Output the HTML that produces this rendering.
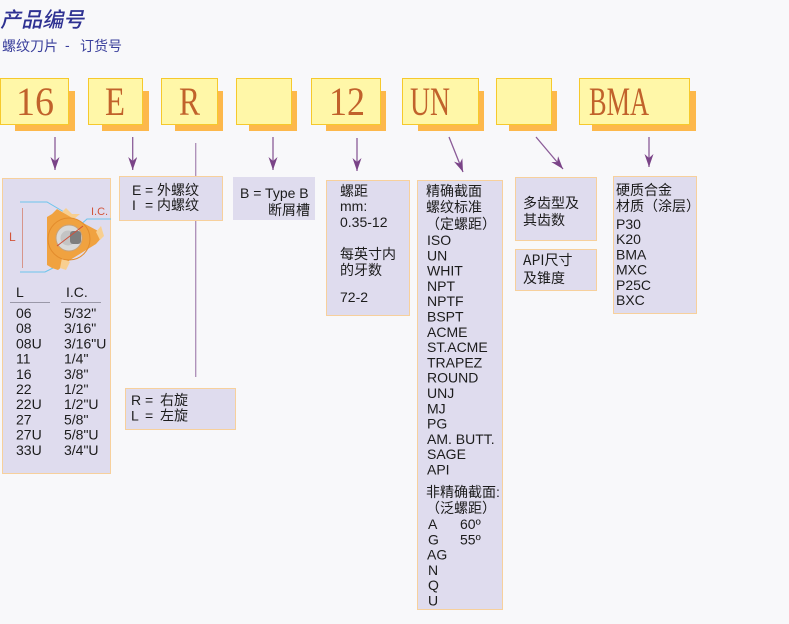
<!DOCTYPE html>
<html>
<head>
<meta charset="utf-8">
<style>
  html,body{margin:0;padding:0;background:#f8f8fa;}
  body{width:789px;height:624px;overflow:hidden;}
  svg{display:block;}
  .t{font-family:"Liberation Sans","Noto Sans CJK SC",sans-serif;font-size:14px;fill:#1c1c1c;}
  .w{font-family:"WenQuanYi Zen Hei","Noto Sans CJK SC",sans-serif;font-size:14px;fill:#1c1c1c;}
  .big{font-family:"Liberation Serif",serif;font-size:40px;fill:#c1622b;}
</style>
</head>
<body>
<svg width="789" height="624" viewBox="0 0 789 624" xmlns="http://www.w3.org/2000/svg">
  <defs>
    <marker id="ah" viewBox="0 0 13 9" refX="13" refY="4.5" markerWidth="13" markerHeight="9" markerUnits="userSpaceOnUse" orient="auto">
      <path d="M0,0 L13,4.5 L0,9 L4,4.5 Z" fill="#7a4387"/>
    </marker>
  </defs>
  <rect x="0" y="0" width="789" height="624" fill="#f8f8fa"/>

  <!-- Title -->
  <text x="0" y="27" transform="skewX(-12) translate(6,0)" font-family="'Noto Sans CJK SC','WenQuanYi Zen Hei',sans-serif" font-size="21" font-weight="500" fill="#2e3192">产品编号</text>
  <text x="2" y="51" font-family="'Noto Sans CJK SC','WenQuanYi Zen Hei',sans-serif" font-size="14" fill="#3a3f9c">螺纹刀片</text>
  <text x="65" y="50" font-family="'Liberation Sans',sans-serif" font-size="14" fill="#3a3f9c">-</text>
  <text x="80" y="51" font-family="'Noto Sans CJK SC','WenQuanYi Zen Hei',sans-serif" font-size="14" fill="#3a3f9c">订货号</text>

  <!-- Yellow code boxes: shadows -->
  <g fill="#fdb84b">
    <rect x="15" y="91" width="60" height="40"/>
    <rect x="102" y="91" width="47" height="40"/>
    <rect x="175" y="91" width="48" height="40"/>
    <rect x="249" y="91" width="48" height="40"/>
    <rect x="326" y="91" width="60" height="40"/>
    <rect x="418" y="91" width="66" height="40"/>
    <rect x="509" y="91" width="48" height="40"/>
    <rect x="592" y="91" width="104" height="40"/>
  </g>
  <g fill="#fff7a8" stroke="#f6c92c" stroke-width="1">
    <rect x="0.5" y="78.5" width="68" height="46"/>
    <rect x="88.5" y="78.5" width="54" height="46"/>
    <rect x="161.5" y="78.5" width="56" height="46"/>
    <rect x="236.5" y="78.5" width="55" height="46"/>
    <rect x="311.5" y="78.5" width="69" height="46"/>
    <rect x="402.5" y="78.5" width="76" height="46"/>
    <rect x="496.5" y="78.5" width="55" height="46"/>
    <rect x="579.5" y="78.5" width="110" height="46"/>
  </g>
  <text class="big" x="16" y="115" textLength="38" lengthAdjust="spacingAndGlyphs">16</text>
  <text class="big" x="105" y="115" textLength="20" lengthAdjust="spacingAndGlyphs">E</text>
  <text class="big" x="179" y="115" textLength="21" lengthAdjust="spacingAndGlyphs">R</text>
  <text class="big" x="329" y="115" textLength="36" lengthAdjust="spacingAndGlyphs">12</text>
  <text class="big" x="410" y="115" textLength="40" lengthAdjust="spacingAndGlyphs">UN</text>
  <text class="big" x="589" y="115" textLength="60" lengthAdjust="spacingAndGlyphs">BMA</text>

  <!-- Arrows -->
  <g stroke="#8b5c98" stroke-width="1.3" fill="none" marker-end="url(#ah)">
    <line x1="55" y1="137" x2="55" y2="170"/>
    <line x1="132.7" y1="137" x2="132.7" y2="170"/>
    <line x1="273" y1="137" x2="273" y2="170"/>
    <line x1="357" y1="138" x2="357" y2="171"/>
    <line x1="449" y1="137" x2="463" y2="172"/>
    <line x1="536" y1="137" x2="563" y2="169"/>
    <line x1="649" y1="137" x2="649" y2="167"/>
  </g>
  <line x1="195.7" y1="143" x2="195.7" y2="377" stroke="#ab8db7" stroke-width="1.3"/>

  <!-- Lavender boxes -->
  <g fill="#dfdcee" stroke="#f7d09c" stroke-width="1">
    <rect x="2.5" y="178.5" width="108" height="295"/>
    <rect x="119.5" y="176.5" width="103" height="44"/>
    <rect x="125.5" y="388.5" width="110" height="41"/>
    <rect x="326.5" y="180.5" width="83" height="135"/>
    <rect x="417.5" y="180.5" width="85" height="429"/>
    <rect x="515.5" y="177.5" width="81" height="63"/>
    <rect x="515.5" y="249.5" width="81" height="41"/>
    <rect x="613.5" y="176.5" width="83" height="137"/>
  </g>
  <rect x="233" y="177" width="82" height="43" fill="#dfdcee"/>

  <!-- Insert illustration -->
  <g>
    <polyline points="20,202 47,202 64,212" fill="none" stroke="#6cc4ec" stroke-width="1"/>
    <polyline points="20,272 45,272 57,266" fill="none" stroke="#6cc4ec" stroke-width="1"/>
    <polyline points="111,219 87,219 78,227" fill="none" stroke="#6cc4ec" stroke-width="1"/>
    <line x1="22.5" y1="208" x2="22.5" y2="268" stroke="#d7958a" stroke-width="1"/>
    <text x="9" y="241" font-family="'Liberation Sans',sans-serif" font-size="12" fill="#d2553a">L</text>
    <text x="91" y="215" font-family="'Liberation Sans',sans-serif" font-size="11" fill="#d2553a">I.C.</text>
    <path d="M47,217 L52,214 L57,209 L62,212 L70,216 L100,232 L103,236 L96,244 L70,260 L58,270 L52,268 L47,265 Z" fill="#f0a240"/>
    <path d="M62,212 L66,208 L72,214 L80,214 L74,219 Z" fill="#f8cf90"/>
    <path d="M96,232 L101,226 L104,236 L100,240 Z" fill="#f8cf90"/>
    <path d="M62,258 L60,268 L66,270 L70,262 Z" fill="#f8cf90"/>
    <circle cx="69" cy="239" r="21" fill="none" stroke="#e38c2c" stroke-width="1"/>
    <circle cx="69" cy="238" r="13" fill="#d9d9d9" stroke="#c8a37a" stroke-width="1"/>
    <circle cx="68" cy="238" r="7.5" fill="#c4c4c4"/>
    <rect x="70" y="231" width="11" height="13" rx="3" fill="#7e7e7e"/>
    <line x1="57" y1="246" x2="83" y2="226" stroke="#d0503a" stroke-width="1"/>
  </g>

  <!-- Box A: L / I.C. -->
  <text class="t" x="16" y="297">L</text>
  <text class="t" x="66" y="297">I.C.</text>
  <line x1="10" y1="302.5" x2="50" y2="302.5" stroke="#9a98a8" stroke-width="1"/>
  <line x1="61" y1="302.5" x2="101" y2="302.5" stroke="#9a98a8" stroke-width="1"/>
  <text class="t" x="16" y="318">06</text>
  <text class="t" x="16" y="333.2">08</text>
  <text class="t" x="16" y="348.4">08U</text>
  <text class="t" x="16" y="363.6">11</text>
  <text class="t" x="16" y="378.8">16</text>
  <text class="t" x="16" y="394">22</text>
  <text class="t" x="16" y="409.2">22U</text>
  <text class="t" x="16" y="424.4">27</text>
  <text class="t" x="16" y="439.6">27U</text>
  <text class="t" x="16" y="454.8">33U</text>
  <text class="t" x="64" y="318">5/32"</text>
  <text class="t" x="64" y="333.2">3/16"</text>
  <text class="t" x="64" y="348.4">3/16"U</text>
  <text class="t" x="64" y="363.6">1/4"</text>
  <text class="t" x="64" y="378.8">3/8"</text>
  <text class="t" x="64" y="394">1/2"</text>
  <text class="t" x="64" y="409.2">1/2"U</text>
  <text class="t" x="64" y="424.4">5/8"</text>
  <text class="t" x="64" y="439.6">5/8"U</text>
  <text class="t" x="64" y="454.8">3/4"U</text>

  <!-- E box -->
  <text class="t" x="132" y="195">E</text>
  <text class="t" x="145" y="195">=</text>
  <text class="t" x="157" y="195">外螺纹</text>
  <text class="t" x="132" y="210">I</text>
  <text class="t" x="145" y="210">=</text>
  <text class="t" x="157" y="210">内螺纹</text>

  <!-- R box -->
  <text class="t" x="131" y="405">R</text>
  <text class="t" x="145" y="405">=</text>
  <text class="t" x="160" y="405">右旋</text>
  <text class="t" x="131" y="420.5">L</text>
  <text class="t" x="145" y="420.5">=</text>
  <text class="t" x="160" y="420.5">左旋</text>

  <!-- B box -->
  <text class="t" x="240" y="198">B = Type B</text>
  <text class="t" x="268" y="215">断屑槽</text>

  <!-- 12 box -->
  <text class="t" x="340" y="196">螺距</text>
  <text class="t" x="340" y="211">mm:</text>
  <text class="t" x="340" y="227">0.35-12</text>
  <text class="t" x="340" y="259">每英寸内</text>
  <text class="t" x="340" y="275">的牙数</text>
  <text class="t" x="340" y="302">72-2</text>

  <!-- UN box -->
  <text class="t" x="426" y="196">精确截面</text>
  <text class="t" x="426" y="212">螺纹标准</text>
  <text class="t" x="426" y="229">（定螺距）</text>
  <text class="t" x="427" y="245">ISO</text>
  <text class="t" x="427" y="260.3">UN</text>
  <text class="t" x="427" y="275.6">WHIT</text>
  <text class="t" x="427" y="290.9">NPT</text>
  <text class="t" x="427" y="306.2">NPTF</text>
  <text class="t" x="427" y="321.5">BSPT</text>
  <text class="t" x="427" y="336.8">ACME</text>
  <text class="t" x="427" y="352.1">ST.ACME</text>
  <text class="t" x="427" y="367.4">TRAPEZ</text>
  <text class="t" x="427" y="382.7">ROUND</text>
  <text class="t" x="427" y="398">UNJ</text>
  <text class="t" x="427" y="413.3">MJ</text>
  <text class="t" x="427" y="428.6">PG</text>
  <text class="t" x="427" y="443.9">AM. BUTT.</text>
  <text class="t" x="427" y="459.2">SAGE</text>
  <text class="t" x="427" y="474.5">API</text>
  <text class="t" x="426" y="497">非精确截面:</text>
  <text class="t" x="426" y="513">（泛螺距）</text>
  <text class="t" x="428" y="529">A</text>
  <text class="t" x="460" y="529">60º</text>
  <text class="t" x="428" y="544.3">G</text>
  <text class="t" x="460" y="544.3">55º</text>
  <text class="t" x="427" y="559.6">AG</text>
  <text class="t" x="428" y="574.9">N</text>
  <text class="t" x="428" y="590.2">Q</text>
  <text class="t" x="428" y="605.5">U</text>

  <!-- 多齿 / API boxes -->
  <text class="w" x="523" y="208">多齿型及</text>
  <text class="w" x="523" y="225">其齿数</text>
  <text class="w" x="523" y="265">API尺寸</text>
  <text class="w" x="523" y="283">及锥度</text>

  <!-- BMA box -->
  <text class="t" x="616" y="195">硬质合金</text>
  <text class="t" x="616" y="211">材质（涂层）</text>
  <text class="t" x="616" y="229">P30</text>
  <text class="t" x="616" y="244.2">K20</text>
  <text class="t" x="616" y="259.4">BMA</text>
  <text class="t" x="616" y="274.6">MXC</text>
  <text class="t" x="616" y="289.8">P25C</text>
  <text class="t" x="616" y="305">BXC</text>
</svg>
</body>
</html>
